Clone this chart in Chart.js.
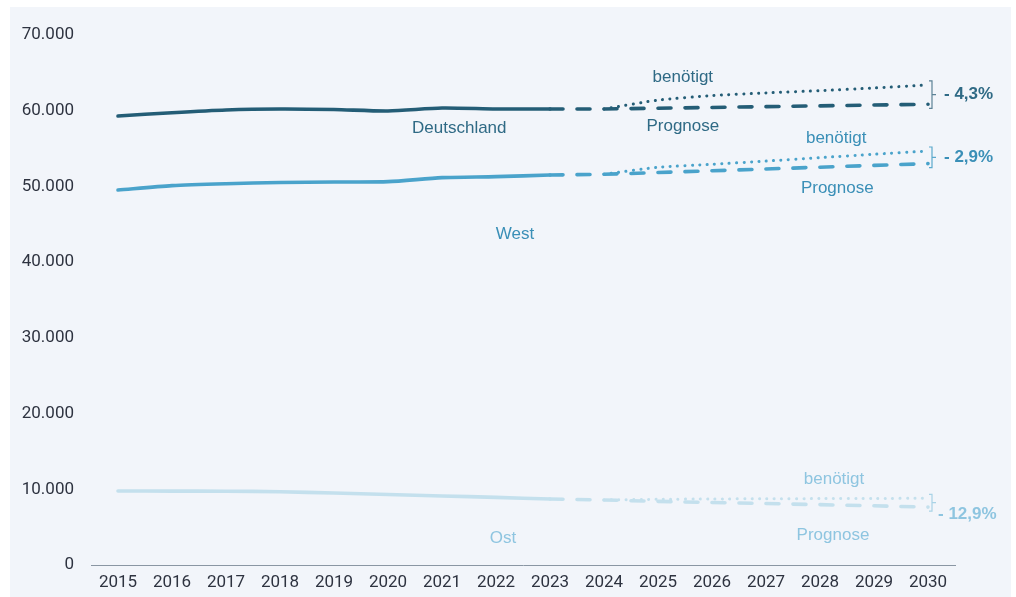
<!DOCTYPE html>
<html>
<head>
<meta charset="utf-8">
<script src="https://cdn.jsdelivr.net/npm/chart.js@4.4.0/dist/chart.umd.min.js"></script>
<style>
  html,body{margin:0;padding:0;background:#fff;}
  #wrap{position:relative;width:1016px;height:597px;}
  #bg{position:absolute;left:10px;top:7px;width:1001px;height:590px;background:#f2f5fa;}
  canvas{position:absolute;left:0;top:0;}
</style>
</head>
<body>
<div id="wrap"><div id="bg"></div><canvas id="c" width="1016" height="597"></canvas></div>
<script>
// chart data
const years = ['2015','2016','2017','2018','2019','2020','2021','2022','2023','2024','2025','2026','2027','2028','2029','2030'];
const N = null;
const deIst      = [59300,59740,60100,60230,60160,59970,60360,60230,60230,N,N,N,N,N,N,N];
const dePrognose = [N,N,N,N,N,N,N,N,60230,60230,60330,60430,60540,60640,60750,60850];
const deBenoetigt= [N,N,N,N,N,N,N,N,N,60230,61400,62000,62350,62650,63000,63400];
const weIst      = [49530,50100,50360,50520,50590,50630,51160,51290,51510,N,N,N,N,N,N,N];
const wePrognose = [N,N,N,N,N,N,N,N,51510,51600,51835,52070,52305,52540,52775,53010];
const weBenoetigt= [N,N,N,N,N,N,N,N,N,51600,52530,52920,53350,53800,54250,54680];
const osIst      = [9770,9760,9740,9680,9500,9320,9120,8930,8720,N,N,N,N,N,N,N];
const osPrognose = [N,N,N,N,N,N,N,N,8720,8590,8400,8260,8120,7970,7820,7650];
const osBenoetigt= [N,N,N,N,N,N,N,N,N,8590,8680,8720,8750,8770,8790,8810];
const yTicks = [0,10000,20000,30000,40000,50000,60000,70000];
const gaps = ['- 4,3%','- 2,9%','- 12,9%'];

const cDe = '#245d76', cWe = '#4aa3cb', cOs = '#c4e0ed';
const tDe = '#2f6a85', tWe = '#3a8fb7', tOs = '#8ec5e0';

const solid = (d,c)=>({data:d,borderColor:c,borderWidth:3.6,pointRadius:0,tension:0.25,borderCapStyle:'round'});
const dashed = (d,c)=>({data:d,borderColor:c,borderWidth:3.6,pointRadius:0,tension:0,borderDash:[13,14],borderCapStyle:'round'});
const dotted = (d,c)=>({data:d,borderColor:c,borderWidth:3,pointRadius:0,tension:0.2,borderDash:[0.1,7.3],borderCapStyle:'round'});

// text labels placed in data units (category index, value)
const labels = [
  {t:'Deutschland',x:6.32,y:57720,c:tDe},
  {t:'benötigt',x:10.46,y:64460,c:tDe},
  {t:'Prognose',x:10.46,y:57990,c:tDe},
  {t:'West',x:7.35,y:43720,c:tWe},
  {t:'benötigt',x:13.30,y:56400,c:tWe},
  {t:'Prognose',x:13.32,y:49790,c:tWe},
  {t:'Ost',x:7.13,y:3570,c:tOs},
  {t:'benötigt',x:13.26,y:11360,c:tOs},
  {t:'Prognose',x:13.24,y:3960,c:tOs}
];
const brackets = [
  {need:deBenoetigt,prog:dePrognose,line:'#5c8296',txt:tDe,text:gaps[0],dx:12,dy:0},
  {need:weBenoetigt,prog:wePrognose,line:'#5ba9cc',txt:tWe,text:gaps[1],dx:12,dy:0},
  {need:osBenoetigt,prog:osPrognose,line:'#a9d3e6',txt:tOs,text:gaps[2],dx:6,dy:12}
];

const annot = {
  id:'annot',
  afterDatasetsDraw(chart){
    const ctx = chart.ctx, xs = chart.scales.x, ys = chart.scales.y;
    ctx.save();
    ctx.font = '17px "Liberation Sans", Arial, sans-serif';
    ctx.textAlign = 'center'; ctx.textBaseline = 'middle';
    labels.forEach(l=>{
      const px = xs.getPixelForValue(0) + l.x*(xs.getPixelForValue(1)-xs.getPixelForValue(0));
      ctx.fillStyle = l.c; ctx.fillText(l.t, px, ys.getPixelForValue(l.y));
    });
    const last = years.length-1;
    const bx = xs.getPixelForValue(last) + 4;
    brackets.forEach(b=>{
      const y1 = ys.getPixelForValue(b.need[last]) - 4;
      const y2 = ys.getPixelForValue(b.prog[last]) + 4;
      const ym = (y1+y2)/2;
      ctx.strokeStyle = b.line; ctx.lineWidth = 1.2;
      ctx.beginPath();
      ctx.moveTo(bx-3,y1); ctx.lineTo(bx,y1); ctx.lineTo(bx,y2); ctx.lineTo(bx-3,y2);
      ctx.moveTo(bx,ym); ctx.lineTo(bx+4,ym);
      ctx.stroke();
      ctx.font = 'bold 17px "Liberation Sans", Arial, sans-serif';
      ctx.textAlign = 'left'; ctx.fillStyle = b.txt;
      ctx.fillText(b.text, bx + b.dx, ym + b.dy);
    });
    ctx.restore();
  }
};

new Chart(document.getElementById('c'), {
  type:'line',
  data:{labels:years, datasets:[
    solid(deIst,cDe), dashed(dePrognose,cDe), dotted(deBenoetigt,cDe),
    solid(weIst,cWe), dashed(wePrognose,cWe), dotted(weBenoetigt,cWe),
    solid(osIst,cOs), dashed(osPrognose,cOs), dotted(osBenoetigt,cOs)
  ]},
  options:{
    responsive:false, animation:false,
    layout:{padding:{left:0,right:61,top:35,bottom:0}},
    plugins:{legend:{display:false},tooltip:{enabled:false}},
    scales:{
      x:{offset:true,
        grid:{display:false,drawTicks:false},
        border:{display:true,color:'#8a96a3',width:1},
        ticks:{color:'#2e3340',font:{family:'Roboto',size:17},padding:8,maxRotation:0,autoSkip:false},
        afterFit:(s)=>{s.height=32;}
      },
      y:{min:0,max:70000,
        afterBuildTicks:(s)=>{s.ticks = yTicks.map(v=>({value:v}));},
        grid:{display:false,drawTicks:false},
        border:{display:false},
        ticks:{color:'#2e3340',font:{family:'Roboto',size:17},padding:17,
          callback:(v)=>v===0?'0':v.toLocaleString('de-DE')},
        afterFit:(s)=>{s.width=91;}
      }
    }
  },
  plugins:[annot]
});
</script>
</body>
</html>
